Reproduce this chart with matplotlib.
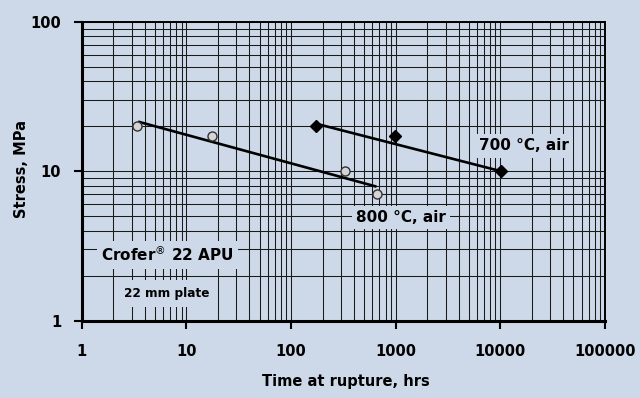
import matplotlib
matplotlib.use("Agg")
import matplotlib.pyplot as plt
from matplotlib.ticker import LogLocator, NullFormatter

# ---- data ----
t800 = [3.33, 17.4, 327, 656]
s800 = [20.1, 17.3, 10.1, 7.1]
t700 = [175, 982, 10280]
s700 = [20.0, 17.3, 10.0]
fit800_t = [3.45, 656]
fit800_s = [21.5, 7.9]
fit700_t = [175, 10280]
fit700_s = [20.8, 10.0]
xticks = [1, 10, 100, 1000, 10000, 100000]
xticklabels = ["1", "10", "100", "1000", "10000", "100000"]
yticks = [1, 10, 100]
yticklabels = ["1", "10", "100"]

BG = "#cdd8e8"
FONT = "DejaVu Sans"

fig = plt.figure(figsize=(6.4, 3.98), dpi=100, facecolor=BG)
ax = fig.add_axes([0.128, 0.194, 0.817, 0.751], facecolor=BG)
ax.set_xscale("log")
ax.set_yscale("log")
ax.set_xlim(1, 100000)
ax.set_ylim(1, 100)

# grid
ax.xaxis.set_minor_locator(LogLocator(base=10, subs=range(2, 10), numticks=20))
ax.yaxis.set_minor_locator(LogLocator(base=10, subs=range(2, 10), numticks=20))
ax.xaxis.set_minor_formatter(NullFormatter())
ax.yaxis.set_minor_formatter(NullFormatter())
ax.grid(True, which="both", color="#1a1a1a", linewidth=0.75, zorder=1)
ax.set_axisbelow(True)
ax.tick_params(which="minor", length=0)

ax.set_xticks(xticks)
ax.set_xticklabels(xticklabels)
ax.set_yticks(yticks)
ax.set_yticklabels(yticklabels)
ax.tick_params(which="major", direction="out", length=6, width=1.5, color="black",
               top=False, right=False, pad=9)
ax.tick_params(axis="x", which="major", pad=11)
for lab in ax.get_xticklabels() + ax.get_yticklabels():
    lab.set_fontfamily(FONT)
    lab.set_fontweight("bold")
    lab.set_fontsize(10.5)

for side in ["left", "bottom"]:
    ax.spines[side].set_linewidth(2.2)
for side in ["top", "right"]:
    ax.spines[side].set_linewidth(1.4)

# fits
ax.plot(fit800_t, fit800_s, color="black", linewidth=1.9, zorder=4, solid_capstyle="butt")
ax.plot(fit700_t, fit700_s, color="black", linewidth=1.9, zorder=4, solid_capstyle="butt")
# data
ax.plot(t800, s800, linestyle="none", marker="o", markersize=6.5, markerfacecolor="#d4d4d4",
        markeredgecolor="#333333", markeredgewidth=1.0, zorder=5)
ax.plot(t700, s700, linestyle="none", marker="D", markersize=6.5, markerfacecolor="black",
        markeredgecolor="black", zorder=5)

box = dict(facecolor=BG, edgecolor="none", pad=3)
ax.text(0.845, 0.585, "700 °C, air", transform=ax.transAxes, ha="center", va="center",
        fontsize=11, fontweight="bold", family=FONT, bbox=box, zorder=6)
ax.text(0.611, 0.345, "800 °C, air", transform=ax.transAxes, ha="center", va="center",
        fontsize=11, fontweight="bold", family=FONT, bbox=box, zorder=6)
ax.text(0.163, 0.221, "Crofer$^{\\circledR}$ 22 APU", transform=ax.transAxes, ha="center",
        va="center", fontsize=11, fontweight="bold", family=FONT, bbox=box, zorder=6)
ax.text(0.162, 0.092, "22 mm plate", transform=ax.transAxes, ha="center", va="center",
        fontsize=8.7, fontweight="bold", family=FONT,
        bbox=dict(facecolor=BG, edgecolor="none", pad=5), zorder=6)

fig.text(0.541, 0.041, "Time at rupture, hrs", ha="center", va="center",
         fontsize=10.5, fontweight="bold", family=FONT)
fig.text(0.034, 0.575, "Stress, MPa", ha="center", va="center", rotation=90,
         fontsize=10.5, fontweight="bold", family=FONT)

fig.savefig("out.png", dpi=100, facecolor=BG)
